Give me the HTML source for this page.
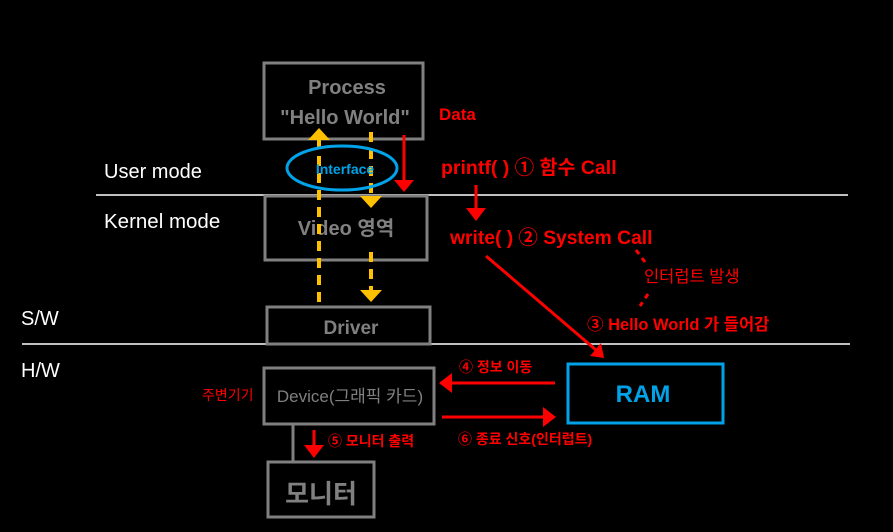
<!DOCTYPE html>
<html><head><meta charset="utf-8"><style>
html,body{margin:0;padding:0;background:#000;}
svg{display:block;}
text{font-family:"Liberation Sans","Noto Sans CJK KR",sans-serif;}
</style></head><body>
<svg width="893" height="532" viewBox="0 0 893 532" xmlns="http://www.w3.org/2000/svg">
<rect width="893" height="532" fill="#000"/>
<line x1="96" y1="195" x2="848" y2="195" stroke="#c0c0c0" stroke-width="2"/>
<line x1="22" y1="344" x2="850" y2="344" stroke="#c0c0c0" stroke-width="2"/>
<g fill="none" stroke="#808080" stroke-width="3">
<rect x="264" y="63" width="159" height="76"/>
<rect x="265" y="196" width="162" height="64"/>
<rect x="267" y="307" width="163" height="37"/>
<rect x="264" y="368" width="170" height="56"/>
<rect x="268" y="462" width="106" height="55"/>
</g>
<line x1="293" y1="424" x2="293" y2="462" stroke="#808080" stroke-width="3"/>
<rect x="568" y="364" width="155" height="59" fill="none" stroke="#00a2e8" stroke-width="3"/>
<g fill="#808080" font-weight="bold" text-anchor="middle">
<text x="347" y="94" font-size="20">Process</text>
<text x="345" y="124" font-size="20">"Hello World"</text>
<text x="346" y="235" font-size="20">Video 영역</text>
<text x="351" y="334" font-size="19">Driver</text>
<text x="321" y="503" font-size="26">모니터</text>
</g>
<text x="350" y="402" font-size="17" fill="#808080" text-anchor="middle">Device(그래픽 카드)</text>
<text x="643" y="402" font-size="24" font-weight="bold" fill="#00a2e8" text-anchor="middle">RAM</text>
<g fill="#fff" font-size="20">
<text x="104" y="178">User mode</text>
<text x="104" y="228" font-size="20.5">Kernel mode</text>
<text x="21" y="325">S/W</text>
<text x="21" y="377">H/W</text>
</g>
<g stroke="#ffc000" stroke-width="4" stroke-dasharray="10,7" fill="none">
<line x1="319" y1="302" x2="319" y2="140"/>
<line x1="371" y1="132" x2="371" y2="198"/>
<line x1="371" y1="252" x2="371" y2="292"/>
</g>
<g fill="#ffc000">
<polygon points="308,140 330,140 319,128"/>
<polygon points="360,196 382,196 371,208"/>
<polygon points="360,290 382,290 371,302"/>
</g>
<ellipse cx="342" cy="168" rx="55" ry="22" fill="none" stroke="#00a2e8" stroke-width="3"/>
<text x="345" y="174" font-size="14" font-weight="bold" fill="#00a2e8" text-anchor="middle">Interface</text>
<g stroke="#f00" stroke-width="3" fill="none">
<line x1="404" y1="135" x2="404" y2="180"/>
<line x1="476" y1="185" x2="476" y2="210"/>
<line x1="486" y1="256" x2="596" y2="350"/>
<line x1="555" y1="383" x2="452" y2="383"/>
<line x1="442" y1="417" x2="543" y2="417"/>
<line x1="314" y1="430" x2="314" y2="447"/>
</g>
<g fill="#f00">
<polygon points="394,180 414,180 404,192"/>
<polygon points="466,208 486,208 476,221"/>
<polygon points="590,356 604,358 601,343"/>
<polygon points="452,373 452,393 439,383"/>
<polygon points="543,407 543,427 556,417"/>
<polygon points="304,445 324,445 314,458"/>
</g>
<g stroke="#f00" stroke-width="3" stroke-dasharray="5,5">
<line x1="636" y1="250" x2="645" y2="262"/>
<line x1="648" y1="294" x2="640" y2="306"/>
</g>
<g fill="#f00" font-weight="bold">
<text x="439" y="120" font-size="17">Data</text>
<text x="441" y="174" font-size="19.5">printf( ) ① 함수 Call</text>
<text x="450" y="244" font-size="19.3">write( ) ② System Call</text>
<text x="587" y="330" font-size="16.5">③ Hello World 가 들어감</text>
</g>
<g fill="#f00">
<text x="644" y="282" font-size="16.5">인터럽트 발생</text>
<text x="202" y="400" font-size="14">주변기기</text>
</g>
<g fill="#f00" font-size="14" font-weight="bold">
<text x="459" y="372">④ 정보 이동</text>
<text x="458" y="444">⑥ 종료 신호(인터럽트)</text>
<text x="328" y="446">⑤ 모니터 출력</text>
</g>
</svg>
</body></html>
